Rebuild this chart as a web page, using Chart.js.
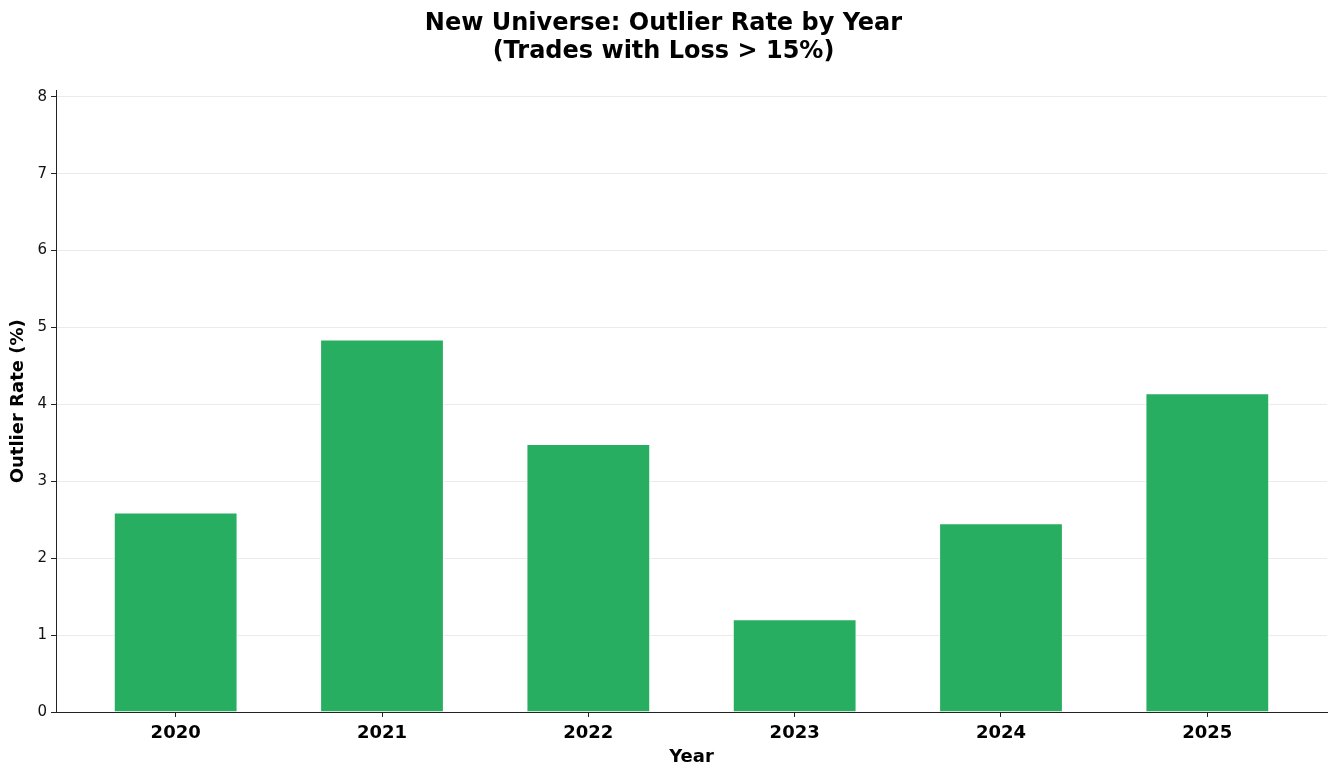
<!DOCTYPE html>
<html>
<head>
<meta charset="utf-8">
<script src="https://cdn.jsdelivr.net/npm/chart.js@4/dist/chart.umd.min.js"></script>
<style>
    html, body { margin: 0; padding: 0; background: #fff; }
    #wrap { width: 1338px; height: 777px; }
</style>
</head>
<body>
<div id="wrap"><canvas id="chart" width="1338" height="777"></canvas></div>
<script>
// ── Data ──────────────────────────────────────────────
const years = ['2020', '2021', '2022', '2023', '2024', '2025'];
const outlierRate = [2.595, 4.845, 3.485, 1.205, 2.455, 4.145];
const yTicks = [0, 1, 2, 3, 4, 5, 6, 7, 8];
const yMax = 8.08;

const FONT = 'DejaVu Sans';
const GREEN = '#27ae60';

// keep only the wanted ticks
function keepTicks(allowed) {
    return scale => {
        scale.ticks = scale.ticks.filter(t => allowed.includes(Math.round(t.value * 1000) / 1000));
    };
}

const idx = years.map((_, i) => i);

new Chart(document.getElementById('chart'), {
    type: 'bar',
    data: {
        datasets: [{
            label: 'Outlier Rate (%)',
            data: outlierRate.map((v, i) => ({ x: i, y: v })),
            backgroundColor: GREEN,
            borderColor: '#ffffff',
            borderWidth: 1,
            barPercentage: 0.6,
            categoryPercentage: 1.0,
        }],
    },
    options: {
        responsive: false,
        animation: false,
        devicePixelRatio: 1,
        layout: { padding: { top: 0, right: 11, bottom: 0, left: 0 } },
        plugins: {
            legend: { display: false },
            tooltip: { enabled: false },
            title: {
                display: true,
                text: ['New Universe: Outlier Rate by Year', '(Trades with Loss > 15%)'],
                color: '#000',
                font: { family: FONT, size: 24, weight: 'bold', lineHeight: 1.2 },
                padding: { top: 9, bottom: 24 },
            },
        },
        scales: {
            x: {
                type: 'linear',
                offset: false,
                min: -0.58,
                max: 5.58,
                afterBuildTicks: keepTicks(idx),
                afterFit: s => { s.height = 65; },
                ticks: {
                    stepSize: 1,
                    includeBounds: false,
                    autoSkip: false,
                    maxRotation: 0,
                    padding: 6,
                    color: '#000',
                    font: { family: FONT, size: 18, weight: 'bold' },
                    callback: v => years[v] ?? '',
                },
                grid: {
                    offset: false,
                    drawOnChartArea: false,
                    drawTicks: true,
                    tickLength: 5,
                    tickColor: '#222',
                },
                border: { display: true, color: '#222', width: 1 },
                title: {
                    display: true,
                    text: 'Year',
                    color: '#000',
                    font: { family: FONT, size: 18, weight: 'bold', lineHeight: 1.2 },
                    padding: { top: 0, bottom: 9 },
                },
            },
            y: {
                min: 0,
                max: yMax,
                z: 1,
                afterBuildTicks: keepTicks(yTicks),
                afterFit: s => { s.width = 56; },
                ticks: {
                    stepSize: 1,
                    includeBounds: false,
                    padding: 4,
                    color: '#111',
                    font: { family: FONT, size: 15 },
                },
                grid: {
                    color: 'rgba(190,190,190,0.3)',
                    lineWidth: 1,
                    drawTicks: true,
                    tickLength: 5,
                    tickColor: '#222',
                },
                border: { display: true, color: '#222', width: 1 },
                title: {
                    display: true,
                    text: 'Outlier Rate (%)',
                    color: '#000',
                    font: { family: FONT, size: 18, weight: 'bold', lineHeight: 1.2 },
                    padding: { top: 8, bottom: 0 },
                },
            },
        },
    },
});
</script>
</body>
</html>
